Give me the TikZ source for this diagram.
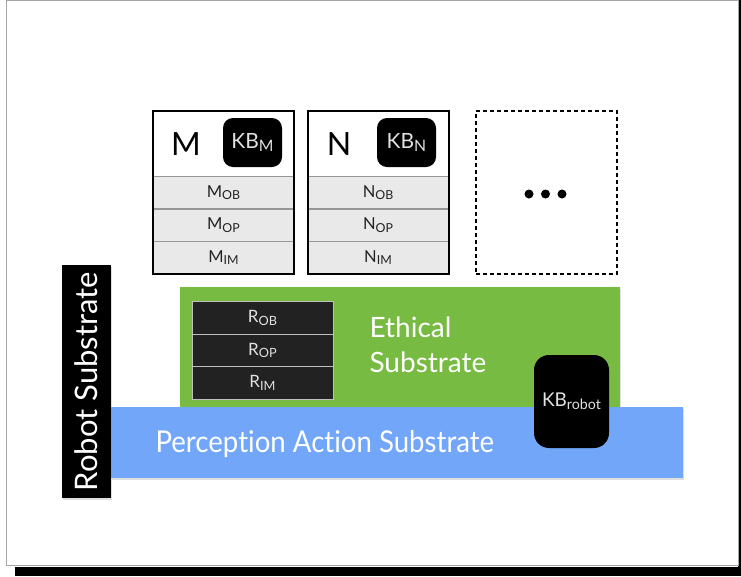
\documentclass[tikz,border=0pt]{standalone}
\usepackage{fontspec}
\setmainfont{Lato}[Ligatures=NoCommon]
\usetikzlibrary{shadows}

\definecolor{etgreen}{RGB}{120,187,66}
\definecolor{pablue}{RGB}{113,166,248}
\definecolor{rowgray}{RGB}{233,233,233}
\definecolor{rowline}{RGB}{150,150,150}
\definecolor{rdark}{RGB}{34,34,34}
\definecolor{lighttext}{RGB}{225,225,225}

\newcommand\sublab[1]{\raisebox{-0.15em}{\scalebox{0.75}{#1}}}

\begin{document}
\begin{tikzpicture}[
    x=1pt, y=-1pt,
    card/.style={draw=black, line width=2pt, minimum width=141pt, minimum height=163pt, inner sep=0pt},
    row/.style={fill=rowgray, draw=rowline, line width=1.2pt, minimum width=141pt, minimum height=32.5pt, inner sep=0pt, text=rdark, font=\fontsize{16.5}{18}\selectfont},
    rrow/.style={fill=rdark, draw=rowline!60, line width=0.8pt, minimum width=141pt, minimum height=32.5pt, inner sep=0pt, text=lighttext, font=\fontsize{17}{18}\selectfont},
    kb/.style={fill=black, rounded corners=10pt, minimum width=59pt, minimum height=49pt, inner sep=0pt, text=lighttext, font=\fontsize{21}{22}\selectfont},
    layer/.style={minimum width=#1, inner sep=0pt, drop shadow={opacity=0.25, shadow xshift=1pt, shadow yshift=-1.5pt}},
    dot/.style={circle, fill=black, minimum size=9pt, inner sep=0pt}
]
\useasboundingbox (0,0) rectangle (741,576);

% Ramka slajdu z cieniem
\fill[black] (15,567) rectangle (741,576);
\fill[black] (738,0) rectangle (741,567);
\draw[gray!70, fill=white, line width=1pt] (6,0) rectangle (738,565);

% Warstwa etyczna (zielona)
\node[layer=440pt, fill=etgreen, minimum height=120pt] (ethical) at (400,347) {};
\node[anchor=west, text=white, align=left, font=\fontsize{28}{35}\selectfont] (ethtext) at (366,345) {Ethical\\Substrate};

% Reguly robota
\node[rrow] (rob) at (262.5,318) {R\sublab{OB}};
\node[rrow] (rop) at (262.5,350.5) {R\sublab{OP}};
\node[rrow] (rim) at (262.5,383) {R\sublab{IM}};

% Warstwa percepcji i dzialania (niebieska)
\node[layer=572pt, fill=pablue, minimum height=71pt] (perception) at (397,442.5) {};
\node[anchor=base west, text=white, font=\fontsize{30}{34}\selectfont] (pertext) at (152,452) {\scalebox{0.92}[1]{Perception Action Substrate}};

% Baza wiedzy robota
\node[kb, rounded corners=15pt, minimum width=75pt, minimum height=93pt, font=\fontsize{19}{20}\selectfont] (kbrobot) at (571.5,401.5) {KB\sublab{robot}};

% Pionowy pasek podloza robota
\node[layer=49pt, fill=black, minimum height=233pt] (robot) at (86.5,381.5) {};
\node[rotate=90, text=white, font=\fontsize{31}{33}\selectfont] (robtext) at (robot.center) {Robot Substrate};

% Modul M
\node[row] (mob) at (223.5,192.8) {M\sublab{OB}};
\node[row] (mop) at (223.5,225.3) {M\sublab{OP}};
\node[row] (mim) at (223.5,257.8) {M\sublab{IM}};
\node[font=\fontsize{32}{34}\selectfont] (mlab) at (186,144) {M};
\node[kb] (kbm) at (252.5,142.5) {KB\sublab{M}};
\node[card] (mcard) at (223.5,192.5) {};

% Modul N
\node[row] (nob) at (378,192.8) {N\sublab{OB}};
\node[row] (nop) at (378,225.3) {N\sublab{OP}};
\node[row] (nim) at (378,257.8) {N\sublab{IM}};
\node[font=\fontsize{32}{34}\selectfont] (nlab) at (339,144) {N};
\node[kb] (kbn) at (406.5,142.5) {KB\sublab{N}};
\node[card] (ncard) at (378,192.5) {};

% Kolejne moduly (wykropkowane)
\node[card, dash pattern=on 4pt off 3pt] (more) at (546,192.5) {};
\node[dot] (d1) at (529,194) {};
\node[dot] (d2) at (545.5,194) {};
\node[dot] (d3) at (562,194) {};

\end{tikzpicture}
\end{document}
